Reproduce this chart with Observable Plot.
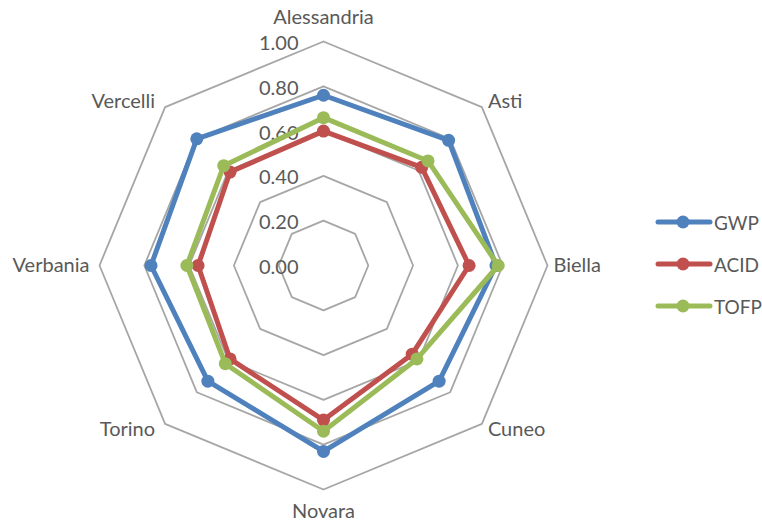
<!DOCTYPE html>
<html>
<head>
<meta charset="utf-8">
<script src="https://cdn.jsdelivr.net/npm/d3@7"></script>
<script src="https://cdn.jsdelivr.net/npm/@observablehq/plot@0.6"></script>
<style>
  html, body { margin: 0; padding: 0; background: #fff; }
  #wrap { position: relative; width: 762px; height: 523px; overflow: hidden; font-family: Lato, "Open Sans", sans-serif; }
  #legend { position: absolute; left: 655px; top: 201px; width: 107px; }
  .item { display: flex; align-items: center; height: 42px; font-size: 19px; color: #595959; white-space: nowrap; }
  .item svg { margin-right: 1px; flex: none; }
</style>
</head>
<body>
<div id="wrap">
  <div id="chart"></div>
  <div id="legend"></div>
</div>
<script>
// Provinces of Piedmont, clockwise from the top
const categories = ["Alessandria", "Asti", "Biella", "Cuneo", "Novara", "Torino", "Verbania", "Vercelli"];

// Normalised impact indicators per province
const gwp  = [0.76, 0.79, 0.77, 0.73, 0.83, 0.73, 0.77, 0.80];
const acid = [0.60, 0.62, 0.65, 0.56, 0.69, 0.59, 0.56, 0.59];
const tofp = [0.66, 0.66, 0.78, 0.59, 0.74, 0.62, 0.61, 0.63];

const seriesNames = ["GWP", "ACID", "TOFP"];
const seriesColors = ["#4F81BD", "#C0504D", "#9BBB59"];

// Radial axis ticks
const ticks = [0.00, 0.20, 0.40, 0.60, 0.80, 1.00];

// Layout
const W = 762, H = 523;
const cx = 323, cy = 265, R = 224; // centre and radius (px) of the 1.00 ring
const n = categories.length;
const angle = i => (i * 2 * Math.PI) / n;
const polar = (i, r) => ({x: r * Math.sin(angle(i)), y: r * Math.cos(angle(i))});

// Polygon vertices for each series
const seriesValues = [gwp, acid, tofp];
const seriesRows = seriesNames.map((name, s) =>
  categories.map((c, i) => ({series: name, category: c, value: seriesValues[s][i], ...polar(i, seriesValues[s][i])}))
);

// Grid rings (0.00 collapses to the centre)
const ringRows = ticks.filter(t => t > 0).flatMap(t =>
  d3.range(n + 1).map(i => ({ring: t, ...polar(i % n, t)}))
);

// Category labels: anchored outside each vertex
const labelMarks = categories.map((c, i) => {
  const s = Math.sin(angle(i)), co = Math.cos(angle(i));
  const side = Math.abs(s) < 1e-6 ? "middle" : (s > 0 ? "start" : "end");
  let dx = 0, dy = 0;
  if (side === "middle") { dy = co > 0 ? -24 : 22; }
  else { dx = s > 0 ? 6 : -10; dy = -8 * co; }
  return Plot.text([{category: c, ...polar(i, 1)}], {
    x: "x", y: "y", text: "category",
    textAnchor: side, dx, dy,
    fontSize: 20, fill: "#595959"
  });
});

const chart = Plot.plot({
  width: W,
  height: H,
  margin: 0,
  style: {fontFamily: "Lato, 'Open Sans', sans-serif", background: "#fff"},
  x: {domain: [-cx / R, (W - cx) / R], axis: null},
  y: {domain: [-(H - cy) / R, cy / R], axis: null},
  marks: [
    Plot.line(ringRows, {x: "x", y: "y", z: "ring", stroke: "#a6a6a6", strokeWidth: 1.8}),
    Plot.text(ticks, {
      x: () => 0, y: d => d, text: d => d.toFixed(2),
      textAnchor: "end", dx: -25, dy: 2, fontSize: 20, fill: "#595959"
    }),
    ...seriesRows.flatMap((rows, s) => [
      Plot.line([...rows, rows[0]], {
        x: "x", y: "y", stroke: seriesColors[s], strokeWidth: 5,
        strokeLinejoin: "round", strokeLinecap: "round"
      }),
      Plot.dot(rows, {x: "x", y: "y", r: 6.5, fill: seriesColors[s], stroke: "none"})
    ]),
    ...labelMarks
  ]
});

document.getElementById("chart").append(chart);

// Legend
const legend = d3.select("#legend");
seriesNames.forEach((name, s) => {
  const item = legend.append("div").attr("class", "item");
  const sw = item.append("svg").attr("width", 58).attr("height", 14);
  sw.append("line").attr("x1", 3).attr("x2", 55).attr("y1", 7).attr("y2", 7)
    .attr("stroke", seriesColors[s]).attr("stroke-width", 5).attr("stroke-linecap", "round");
  sw.append("circle").attr("cx", 28).attr("cy", 7).attr("r", 6.5).attr("fill", seriesColors[s]);
  item.append("span").text(name);
});
</script>
</body>
</html>
